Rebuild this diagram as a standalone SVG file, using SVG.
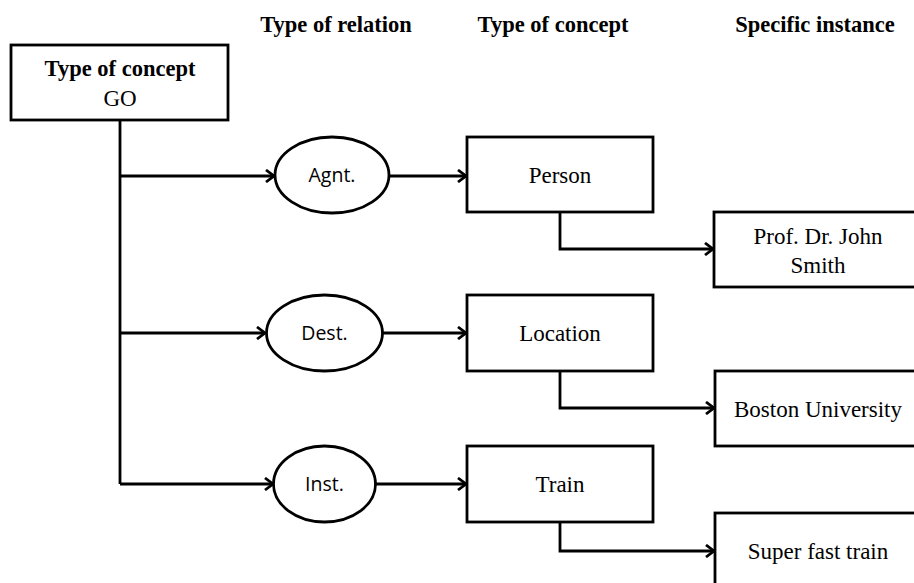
<svg xmlns="http://www.w3.org/2000/svg" width="914" height="583" viewBox="0 0 914 583">
<style>
.box{fill:#fff;stroke:#000;stroke-width:2.8}
.ell{fill:#fff;stroke:#000;stroke-width:2.8}
.ln{fill:none;stroke:#000;stroke-width:2.8;marker-end:url(#arr)}
.ln0{fill:none;stroke:#000;stroke-width:2.8}
.hd{font-family:"Liberation Serif",serif;font-weight:bold;font-size:22.5px;text-anchor:middle;fill:#000}
.tx{font-family:"Liberation Serif",serif;font-size:23px;text-anchor:middle;fill:#000}
.et{font-family:"Open Sans","Liberation Sans",sans-serif;font-size:19.5px;text-anchor:middle;fill:#000}
</style>
<defs>
<marker id="arr" markerWidth="12" markerHeight="14" refX="10" refY="7" orient="auto" markerUnits="userSpaceOnUse">
<polyline points="2,1 10,7 2,13" fill="none" stroke="#000" stroke-width="2.8"/>
</marker>
</defs>
<rect width="914" height="583" fill="#fff"/>
<g id="headers">
<text class="hd" x="336" y="32">Type of relation</text>
<text class="hd" x="553" y="32">Type of concept</text>
<text class="hd" x="815" y="32">Specific instance</text>
</g>
<g id="connectors">
<polyline class="ln0" points="120,121 120,484"/>
<line class="ln" x1="120" y1="176" x2="274" y2="176"/>
<line class="ln" x1="120" y1="333" x2="265" y2="333"/>
<line class="ln" x1="120" y1="484" x2="273" y2="484"/>
<line class="ln" x1="390" y1="176" x2="466" y2="176"/>
<line class="ln" x1="383" y1="333" x2="466" y2="333"/>
<line class="ln" x1="375" y1="484" x2="466" y2="484"/>
<polyline class="ln" points="560,212 560,249 713,249"/>
<polyline class="ln" points="560,371 560,408 714,408"/>
<polyline class="ln" points="560,522 560,551 714,551"/>
</g>
<g id="go">
<rect class="box" x="11" y="45" width="217" height="75"/>
<text class="hd" x="120" y="76">Type of concept</text>
<text class="tx" x="120" y="106" font-size="22px">GO</text>
</g>
<g id="agnt">
<ellipse class="ell" cx="332" cy="175" rx="57" ry="38"/>
<text class="et" x="332" y="182">Agnt.</text>
</g>
<g id="dest">
<ellipse class="ell" cx="324.5" cy="333" rx="58" ry="38"/>
<text class="et" x="324.5" y="340">Dest.</text>
</g>
<g id="inst">
<ellipse class="ell" cx="324.5" cy="484" rx="51" ry="38"/>
<text class="et" x="324.5" y="491">Inst.</text>
</g>
<g id="person">
<rect class="box" x="467" y="137" width="186" height="75"/>
<text class="tx" x="560" y="183">Person</text>
</g>
<g id="location">
<rect class="box" x="467" y="295" width="186" height="76"/>
<text class="tx" x="560" y="341">Location</text>
</g>
<g id="train">
<rect class="box" x="467" y="446" width="186" height="76"/>
<text class="tx" x="560" y="492">Train</text>
</g>
<g id="smith">
<rect class="box" x="714" y="212" width="210" height="75"/>
<text class="tx" x="818" y="244">Prof. Dr. John</text>
<text class="tx" x="818" y="273">Smith</text>
</g>
<g id="boston">
<rect class="box" x="715" y="371" width="210" height="75"/>
<text class="tx" x="818" y="417">Boston University</text>
</g>
<g id="superfast">
<rect class="box" x="715" y="513" width="210" height="80"/>
<text class="tx" x="818" y="559">Super fast train</text>
</g>
</svg>
